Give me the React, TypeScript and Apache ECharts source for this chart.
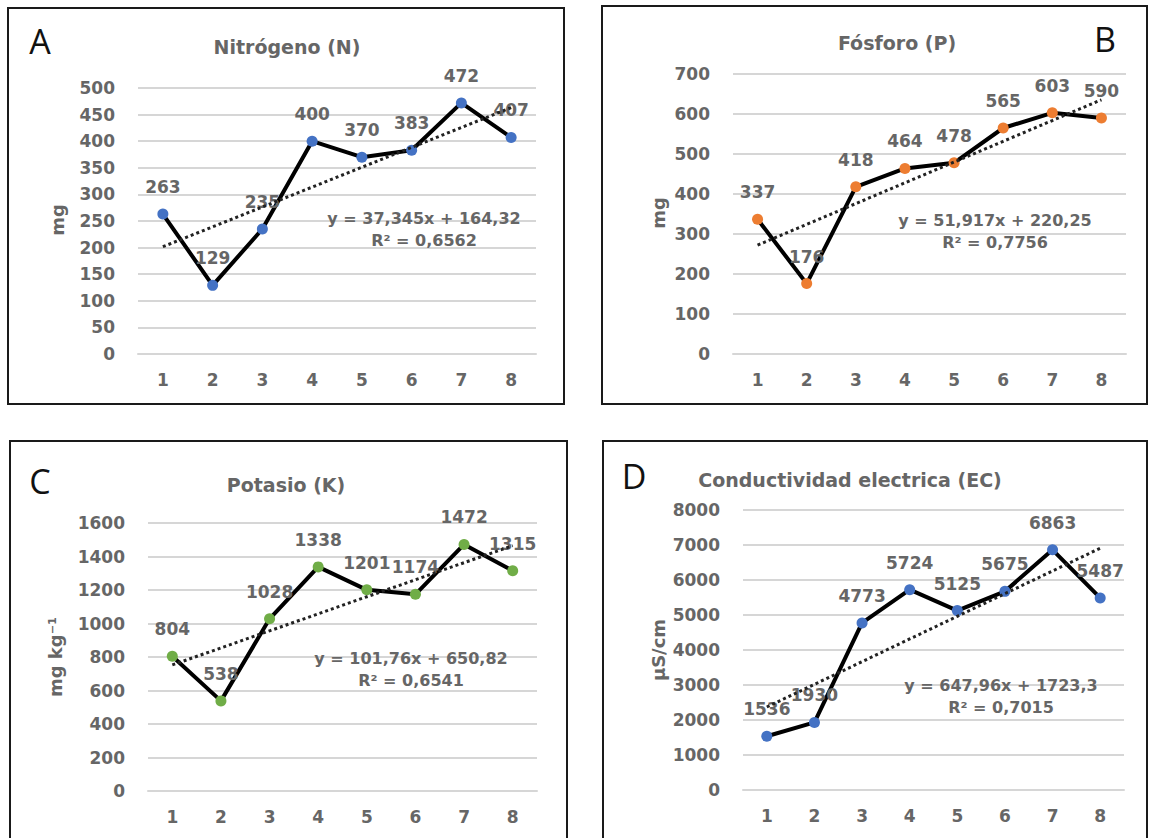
import React, { useEffect, useRef } from "react";
import * as echarts from "echarts";

// ---- data ----
const categories = ["1", "2", "3", "4", "5", "6", "7", "8"];
const nitrogenValues = [263, 129, 235, 400, 370, 383, 472, 407];
const phosphorusValues = [337, 176, 418, 464, 478, 565, 603, 590];
const potassiumValues = [804, 538, 1028, 1338, 1201, 1174, 1472, 1315];
const conductivityValues = [1536, 1930, 4773, 5724, 5125, 5675, 6863, 5487];

const panelTitles = ["Nitrógeno (N)", "Fósforo (P)", "Potasio (K)", "Conductividad electrica (EC)"];
const panelLetters = ["A", "B", "C", "D"];
const unitLabels = ["mg", "mg", "mg kg⁻¹", "µS/cm"];
const yMaxes = [500, 700, 1600, 8000];
const yIntervals = [50, 100, 200, 1000];
const equations = [
  "y = 37,345x + 164,32",
  "y = 51,917x + 220,25",
  "y = 101,76x + 650,82",
  "y = 647,96x + 1723,3",
];
const rSquared = ["R² = 0,6562", "R² = 0,7756", "R² = 0,6541", "R² = 0,7015"];

// ---- styles / layout ----
const markerColors = ["#4472C4", "#ED7D31", "#70AD47", "#4472C4"];
const FONT = '"DejaVu Sans", sans-serif';
const TEXT = "#666666";
const GRIDC = "#d6d6d6";

const layouts = [
  { box: [8, 8, 556, 396], grid: { left: 138, top: 88, width: 398, height: 266 }, title: [287, 47], letter: [40, 41], unit: [57, 220], eq: [424, 218] },
  { box: [602, 6, 545, 398], grid: { left: 733, top: 74, width: 393, height: 280 }, title: [897, 43], letter: [1105, 39], unit: [658, 213], eq: [995, 220] },
  { box: [10, 441, 557, 410], grid: { left: 148, top: 523, width: 389, height: 268 }, title: [286, 485], letter: [40, 481], unit: [55, 657], eq: [411, 658] },
  { box: [603, 441, 544, 410], grid: { left: 743, top: 510, width: 381, height: 280 }, title: [850, 480], letter: [634, 476], unit: [658, 650], eq: [1001, 685] },
];

const allValues = [nitrogenValues, phosphorusValues, potassiumValues, conductivityValues];

function linearTrend(values: number[]) {
  const n = values.length;
  const xs = values.map((_, i) => i + 1);
  const mx = xs.reduce((a, b) => a + b, 0) / n;
  const my = values.reduce((a, b) => a + b, 0) / n;
  let sxy = 0;
  let sxx = 0;
  for (let i = 0; i < n; i++) {
    sxy += (xs[i] - mx) * (values[i] - my);
    sxx += (xs[i] - mx) * (xs[i] - mx);
  }
  const slope = sxy / sxx;
  const intercept = my - slope * mx;
  return xs.map((x) => intercept + slope * x);
}

function txt(x: number, y: number, text: string, font: string, fill: string, extra: any = {}) {
  return {
    type: "text",
    x,
    y,
    silent: true,
    z: 10,
    ...extra,
    style: {
      text,
      font,
      fill,
      align: "center",
      verticalAlign: "middle",
      textAlign: "center",
      textVerticalAlign: "middle",
    },
  };
}

export default function App() {
  const ref = useRef<HTMLDivElement>(null);

  useEffect(() => {
    if (!ref.current) return;
    const chart = echarts.init(ref.current, undefined, { renderer: "svg" });

    const grids: any[] = [];
    const xAxes: any[] = [];
    const yAxes: any[] = [];
    const series: any[] = [];
    const graphics: any[] = [];

    layouts.forEach((L, i) => {
      grids.push({ ...L.grid, containLabel: false });
      xAxes.push({
        type: "category",
        gridIndex: i,
        data: categories,
        boundaryGap: true,
        axisTick: { show: false },
        axisLine: { show: true, lineStyle: { color: GRIDC, width: 2 } },
        axisLabel: { color: TEXT, fontFamily: FONT, fontWeight: "bold", fontSize: 17, margin: 17 },
      });
      yAxes.push({
        type: "value",
        gridIndex: i,
        min: 0,
        max: yMaxes[i],
        interval: yIntervals[i],
        axisLine: { show: false },
        axisTick: { show: false },
        splitLine: { show: true, lineStyle: { color: GRIDC, width: 2 } },
        axisLabel: {
          color: TEXT,
          fontFamily: FONT,
          fontWeight: "bold",
          fontSize: 17,
          margin: 23,
          formatter: (v: number) => String(v),
        },
      });
      series.push({
        type: "line",
        xAxisIndex: i,
        yAxisIndex: i,
        data: allValues[i],
        symbol: "circle",
        symbolSize: 11,
        z: 3,
        itemStyle: { color: markerColors[i] },
        lineStyle: { color: "#000000", width: 4 },
        label: {
          show: true,
          position: "top",
          distance: 13,
          color: TEXT,
          fontFamily: FONT,
          fontWeight: "bold",
          fontSize: 17,
        },
      });
      series.push({
        type: "line",
        xAxisIndex: i,
        yAxisIndex: i,
        data: linearTrend(allValues[i]),
        symbol: "none",
        z: 4,
        silent: true,
        lineStyle: { color: "#222222", width: 3, type: [3, 3] },
      });

      graphics.push({
        type: "rect",
        shape: { x: L.box[0], y: L.box[1], width: L.box[2], height: L.box[3] },
        style: { fill: "none", stroke: "#1a1a1a", lineWidth: 2 },
        silent: true,
        z: 1,
      });
      graphics.push(txt(L.letter[0], L.letter[1], panelLetters[i], '34px "Open Sans", sans-serif', "#111111"));
      graphics.push(txt(L.title[0], L.title[1], panelTitles[i], `bold 19px ${FONT}`, TEXT));
      graphics.push(txt(L.unit[0], L.unit[1], unitLabels[i], `bold 18px ${FONT}`, TEXT, { rotation: Math.PI / 2 }));
      graphics.push(txt(L.eq[0], L.eq[1], equations[i], `bold 16px ${FONT}`, TEXT));
      graphics.push(txt(L.eq[0], L.eq[1] + 22, rSquared[i], `bold 16px ${FONT}`, TEXT));
    });

    chart.setOption({
      animation: false,
      backgroundColor: "#ffffff",
      grid: grids,
      xAxis: xAxes,
      yAxis: yAxes,
      series,
      graphic: { elements: graphics },
    });

    return () => chart.dispose();
  }, []);

  return (
    <div
      ref={ref}
      style={{ position: "absolute", left: 0, top: 0, width: 1149, height: 838, background: "#fff" }}
    />
  );
}
